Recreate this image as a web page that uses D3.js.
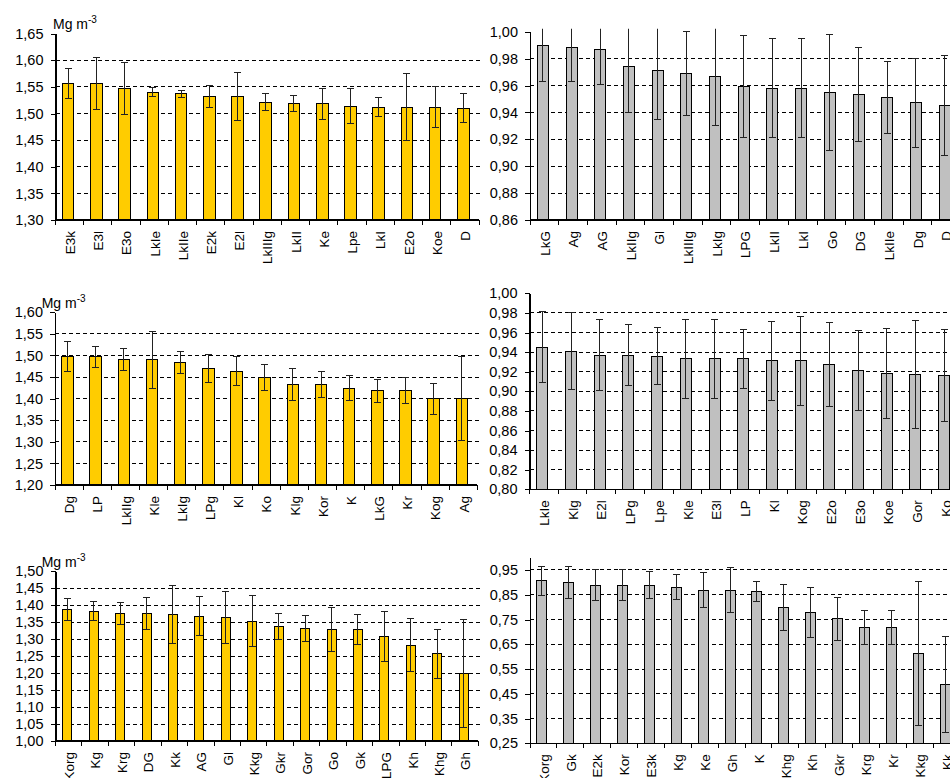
<!DOCTYPE html>
<html>
<head>
<meta charset="utf-8">
<script src="https://cdn.jsdelivr.net/npm/d3@7"></script>
<style>
  html, body { margin: 0; padding: 0; background: #fff; }
  svg { display: block; }
  text { font-family: "Liberation Sans", Arial, sans-serif; fill: #000; }
  line, rect, path { shape-rendering: crispEdges; }
</style>
</head>
<body>
<svg id="chart" width="950" height="778"></svg>
<script>
// ---- Bulk density (Mg m-3), top row ----
const bdTopCats = ["E3k", "E3l", "E3o", "LkIe", "LkIIe", "E2k", "E2l", "LkIIIg", "LkII", "Ke", "Lpe", "LkI", "E2o", "Koe", "D"];
const bdTopMean = [1.556, 1.556, 1.547, 1.540, 1.537, 1.532, 1.532, 1.521, 1.518, 1.518, 1.514, 1.512, 1.512, 1.512, 1.510];
const bdTopErr  = [0.028, 0.049, 0.048, 0.008, 0.007, 0.021, 0.045, 0.016, 0.015, 0.029, 0.033, 0.018, 0.063, 0.038, 0.027];
const bdTopTicks = [1.30, 1.35, 1.40, 1.45, 1.50, 1.55, 1.60, 1.65];

// ---- Ratio, top row ----
const rTopCats = ["LkG", "Ag", "AG", "LkIIg", "Gl", "LkIIIg", "LkIg", "LPG", "LkII", "LkI", "Go", "DG", "LkIIe", "Dg", "D"];
const rTopMean = [0.990, 0.988, 0.987, 0.974, 0.971, 0.969, 0.967, 0.959, 0.958, 0.958, 0.955, 0.953, 0.951, 0.947, 0.945];
const rTopErr  = [0.027, 0.025, 0.026, 0.034, 0.036, 0.031, 0.037, 0.038, 0.037, 0.037, 0.043, 0.035, 0.027, 0.033, 0.037];
const rTopTicks = [0.86, 0.88, 0.90, 0.92, 0.94, 0.96, 0.98, 1.00];

// ---- Bulk density (Mg m-3), middle row ----
const bdMidCats = ["Dg", "LP", "LkIIg", "Kle", "LkIg", "LPg", "Kl", "Ko", "Klg", "Kor", "K", "LkG", "Kr", "Kog", "Ag"];
const bdMidMean = [1.497, 1.497, 1.490, 1.490, 1.484, 1.470, 1.464, 1.449, 1.432, 1.432, 1.424, 1.418, 1.418, 1.400, 1.400];
const bdMidErr  = [0.035, 0.024, 0.025, 0.066, 0.025, 0.033, 0.033, 0.031, 0.037, 0.030, 0.029, 0.026, 0.030, 0.036, 0.097];
const bdMidTicks = [1.20, 1.25, 1.30, 1.35, 1.40, 1.45, 1.50, 1.55, 1.60];

// ---- Ratio, middle row ----
const rMidCats = ["LkIe", "Klg", "E2l", "LPg", "Lpe", "Kle", "E3l", "LP", "Kl", "Kog", "E2o", "E3o", "Koe", "Gor", "Ko"];
const rMidMean = [0.945, 0.941, 0.937, 0.937, 0.936, 0.933, 0.933, 0.933, 0.931, 0.931, 0.927, 0.921, 0.918, 0.917, 0.916];
const rMidErr  = [0.036, 0.039, 0.036, 0.031, 0.029, 0.040, 0.040, 0.030, 0.040, 0.045, 0.043, 0.041, 0.046, 0.055, 0.047];
const rMidTicks = [0.80, 0.82, 0.84, 0.86, 0.88, 0.90, 0.92, 0.94, 0.96, 0.98, 1.00];

// ---- Bulk density (Mg m-3), bottom row ----
const bdBotCats = ["Korg", "Kg", "Krg", "DG", "Kk", "AG", "Gl", "Kkg", "Gkr", "Gor", "Go", "Gk", "LPG", "Kh", "Khg", "Gh"];
const bdBotMean = [1.386, 1.382, 1.375, 1.375, 1.371, 1.367, 1.364, 1.352, 1.337, 1.331, 1.327, 1.327, 1.308, 1.282, 1.257, 1.198];
const bdBotErr  = [0.032, 0.028, 0.032, 0.046, 0.085, 0.057, 0.076, 0.075, 0.039, 0.037, 0.065, 0.044, 0.074, 0.077, 0.072, 0.158];
const bdBotTicks = [1.00, 1.05, 1.10, 1.15, 1.20, 1.25, 1.30, 1.35, 1.40, 1.45, 1.50];

// ---- Ratio, bottom row ----
const rBotCats = ["Korg", "Gk", "E2k", "Kor", "E3k", "Kg", "Ke", "Gh", "K", "Khg", "Kh", "Gkr", "Krg", "Kr", "Kkg", "Kk"];
const rBotMean = [0.906, 0.900, 0.889, 0.889, 0.889, 0.880, 0.869, 0.869, 0.864, 0.799, 0.779, 0.753, 0.718, 0.718, 0.612, 0.486];
const rBotErr  = [0.058, 0.065, 0.063, 0.064, 0.053, 0.050, 0.069, 0.092, 0.040, 0.093, 0.100, 0.086, 0.068, 0.070, 0.292, 0.194];
const rBotTicks = [0.25, 0.35, 0.45, 0.55, 0.65, 0.75, 0.85, 0.95];

const unitMain = "Mg m";
const unitSup = "-3";

const svg = d3.select("#chart");
const fmt = v => d3.format(".2f")(v).replace(".", ",");

const YELLOW = "#FFCC00";
const GREY = "#C0C0C0";

// layout of the six panels
const panels = [
  { cats: bdTopCats, mean: bdTopMean, err: bdTopErr, ticks: bdTopTicks, dom: [1.30, 1.65],
    axisX: 55.5, xr: [55.5, 479], yr: [220, 33.7], gridEnd: 481, fill: YELLOW, frac: 0.41, unit: [53, 28.5] },
  { cats: rTopCats, mean: rTopMean, err: rTopErr, ticks: rTopTicks, dom: [0.86, 1.00],
    axisX: 530, xr: [530, 960.5], yr: [220, 31.7], gridEnd: 950, fill: GREY, frac: 0.38 },
  { cats: bdMidCats, mean: bdMidMean, err: bdMidErr, ticks: bdMidTicks, dom: [1.20, 1.60],
    axisX: 55, xr: [55, 477.4], yr: [485, 312.3], gridEnd: 481, fill: YELLOW, frac: 0.41, unit: [41.7, 308] },
  { cats: rMidCats, mean: rMidMean, err: rMidErr, ticks: rMidTicks, dom: [0.80, 1.00],
    axisX: 529.5, xr: [529.5, 960], yr: [489.3, 293.3], gridEnd: 950, fill: GREY, frac: 0.38 },
  { cats: bdBotCats, mean: bdBotMean, err: bdBotErr, ticks: bdBotTicks, dom: [1.00, 1.50],
    axisX: 55.5, xr: [55.5, 478.4], yr: [741, 571], gridEnd: 481, fill: YELLOW, frac: 0.34, unit: [41.7, 567] },
  { cats: rBotCats, mean: rBotMean, err: rBotErr, ticks: rBotTicks, dom: [0.25, 1.00],
    axisX: 530, xr: [530, 960], yr: [743.3, 557.6], gridEnd: 950, fill: GREY, frac: 0.37 }
];

panels.forEach((p, idx) => {
  const g = svg.append("g");
  const x = d3.scaleBand().domain(p.cats).range(p.xr).padding(0);
  const y = d3.scaleLinear().domain(p.dom).range(p.yr);
  const step = x.step();
  const barW = step * p.frac;
  const barShift = -1.5;
  const yBase = y(p.dom[0]);
  const yTop = y(p.dom[1]);

  // dashed gridlines between the bottom and top of the value range
  g.append("g").selectAll("line")
    .data(p.ticks.filter(t => t > p.dom[0] + 1e-9 && t < p.dom[1] - 1e-9))
    .join("line")
    .attr("x1", p.axisX).attr("x2", p.gridEnd)
    .attr("y1", d => y(d)).attr("y2", d => y(d))
    .attr("stroke", "#000").attr("stroke-width", 1)
    .attr("stroke-dasharray", "4,3");

  const rows = p.cats.map((c, i) => ({ c, m: p.mean[i], e: p.err[i] }));

  // bars
  g.append("g").selectAll("rect")
    .data(rows)
    .join("rect")
    .attr("x", d => x(d.c) + (step - barW) / 2 + barShift)
    .attr("y", d => y(d.m))
    .attr("width", barW)
    .attr("height", d => yBase - y(d.m))
    .attr("fill", p.fill)
    .attr("stroke", "#000")
    .attr("stroke-width", 1);

  // error bars, clipped to the plot area
  const clipId = "clip" + idx;
  svg.append("clipPath").attr("id", clipId)
    .append("rect")
    .attr("x", p.axisX).attr("y", yTop - 3)
    .attr("width", 950 - p.axisX).attr("height", yBase - yTop + 3);

  const eg = g.append("g").attr("clip-path", `url(#${clipId})`);
  const cap = 3.5;
  rows.forEach(d => {
    const cx = x(d.c) + step / 2 + barShift;
    const y1 = y(d.m + d.e), y2 = y(d.m - d.e);
    eg.append("line").attr("x1", cx).attr("x2", cx).attr("y1", y1).attr("y2", y2)
      .attr("stroke", "#222").attr("stroke-width", 1);
    [y1, y2].forEach(yy => {
      eg.append("line").attr("x1", cx - cap).attr("x2", cx + cap).attr("y1", yy).attr("y2", yy)
        .attr("stroke", "#222").attr("stroke-width", 1);
    });
  });

  // y axis
  const ya = g.append("g")
    .attr("transform", `translate(${p.axisX},0)`)
    .call(d3.axisLeft(y).tickValues(p.ticks).tickSize(5).tickSizeOuter(0).tickPadding(7).tickFormat(fmt));
  ya.attr("font-family", null).attr("font-size", null);
  ya.select(".domain").attr("stroke", "#000").attr("stroke-width", 1.2);
  ya.selectAll(".tick line").attr("stroke", "#000");
  ya.selectAll(".tick text").style("font-size", "14.5px").attr("fill", "#111");

  // x axis: line, ticks at category boundaries, rotated labels
  const xg = g.append("g");
  xg.append("line")
    .attr("x1", p.axisX).attr("x2", x.range()[1])
    .attr("y1", yBase).attr("y2", yBase)
    .attr("stroke", "#000").attr("stroke-width", 1.2);
  const bounds = p.cats.map(c => x(c)).concat([x(p.cats[p.cats.length - 1]) + step]);
  xg.selectAll("line.t")
    .data(bounds)
    .join("line").attr("class", "t")
    .attr("x1", d => d).attr("x2", d => d)
    .attr("y1", yBase).attr("y2", yBase + 5)
    .attr("stroke", "#000");
  xg.selectAll("text")
    .data(p.cats)
    .join("text")
    .attr("transform", d => `translate(${x(d) + step / 2 + 0.5},${yBase + 11}) rotate(-90)`)
    .attr("text-anchor", "end")
    .attr("dy", "0.35em")
    .style("font-size", "13.5px")
    .attr("fill", "#111")
    .text(d => d);

  // unit label
  if (p.unit) {
    const t = g.append("text")
      .attr("x", p.unit[0]).attr("y", p.unit[1])
      .style("font-size", "14px");
    t.append("tspan").text(unitMain);
    t.append("tspan").attr("dy", -6).style("font-size", "10px").text(unitSup);
  }
});
</script>
</body>
</html>
